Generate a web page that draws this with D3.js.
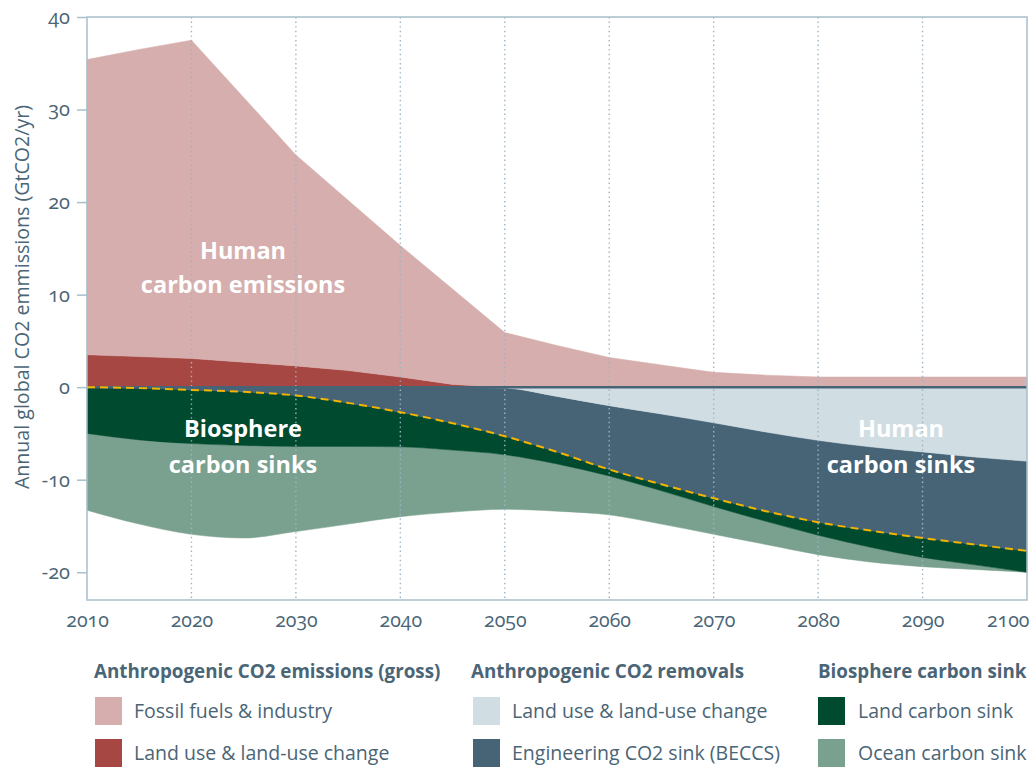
<!DOCTYPE html>
<html>
<head>
<meta charset="utf-8">
<script src="https://cdn.jsdelivr.net/npm/d3@7"></script>
<style>
  html, body { margin: 0; padding: 0; background: #ffffff; }
  svg { display: block; font-family: "Open Sans", Lato, sans-serif; }
  .num { font-variant-numeric: oldstyle-nums; font-feature-settings: "onum" 1; }
</style>
</head>
<body>
<svg id="chart" width="1034" height="767"></svg>
<script>
// ---- Data (GtCO2/yr) ----
const years = [2010,2015,2020,2025,2030,2035,2040,2045,2050,2055,2060,2065,2070,2075,2080,2085,2090,2095,2100];

// Anthropogenic CO2 emissions (gross)
const landUseEmissions = [3.5,3.3,3.1,2.7,2.3,1.8,1.1,0.3,0,0,0,0,0,0,0,0,0,0,0];
const fossilIndustry   = [31.9,33.2,34.4,28.6,22.8,18.4,14.2,10.3,5.9,4.5,3.2,2.4,1.6,1.3,1.1,1.1,1.1,1.1,1.1];

// Anthropogenic CO2 removals (magnitudes, drawn below zero)
const landUseRemovals  = [0,0,0,0,0,0,0,0,0.1,1.0,2.0,2.9,3.85,4.85,5.75,6.45,7.0,7.55,8.0];
const beccs            = [0,0.1,0.3,0.5,0.9,1.7,2.7,3.9,5.2,6.0,6.9,7.6,8.15,8.55,8.85,9.05,9.3,9.45,9.7];

// Biosphere carbon sink (magnitudes, drawn below zero)
const landSink         = [5.0,5.6,5.8,5.8,5.5,4.7,3.75,2.9,2.0,1.3,0.7,0.7,0.9,1.1,1.4,1.8,2.1,2.2,2.3];
const oceanSink        = [8.3,9.1,9.8,10.0,9.2,8.4,7.55,6.7,5.9,5.1,4.2,3.6,3.0,2.5,2.1,1.6,1.0,0.5,0.0];

const xTicks = [2010,2020,2030,2040,2050,2060,2070,2080,2090,2100];
const yTicks = [-20,-10,0,10,20,30,40];

const colors = {
  fossil: "#d5aead",
  landUseEm: "#a64743",
  landUseRem: "#d0dde2",
  beccs: "#476477",
  land: "#004a2f",
  ocean: "#7aa08f"
};

const textColor = "#4a6576";
const axisColor = "#a8bfcc";

// ---- Layout ----
const svg = d3.select("#chart");
const mLeft = 87, mRight = 1027, mTop = 17, mBottom = 600;

const x = d3.scaleLinear().domain([2010, 2100]).range([mLeft, mRight]);
const y = d3.scaleLinear().domain([-23, 40]).range([mBottom, mTop]);

// Build tables
const emisTable = years.map((yr, i) => ({ year: yr, landUseEm: landUseEmissions[i], fossil: fossilIndustry[i] }));
const sinkTable = years.map((yr, i) => ({ year: yr, landUseRem: landUseRemovals[i], beccs: beccs[i], land: landSink[i], ocean: oceanSink[i] }));

const emisStack = d3.stack().keys(["landUseEm", "fossil"])(emisTable);
const sinkStack = d3.stack().keys(["landUseRem", "beccs", "land", "ocean"])(sinkTable);

const areaPos = d3.area()
  .x(d => x(d.data.year))
  .y0(d => y(d[0]))
  .y1(d => y(d[1]))
  .curve(d3.curveLinear);

const areaNeg = d3.area()
  .x(d => x(d.data.year))
  .y0(d => y(-d[0]))
  .y1(d => y(-d[1]))
  .curve(d3.curveMonotoneX);

svg.append("g").selectAll("path")
  .data(sinkStack.slice().reverse())
  .join("path")
  .attr("d", areaNeg)
  .attr("fill", d => colors[d.key])
  .attr("stroke", d => colors[d.key])
  .attr("stroke-width", 0.5);

svg.append("g").selectAll("path")
  .data(emisStack)
  .join("path")
  .attr("d", areaPos)
  .attr("fill", d => colors[d.key])
  .attr("stroke", d => colors[d.key])
  .attr("stroke-width", 0.5);

// dotted vertical gridlines
svg.append("g").selectAll("line")
  .data(xTicks.slice(1, -1))
  .join("line")
  .attr("x1", d => x(d)).attr("x2", d => x(d))
  .attr("y1", mTop).attr("y2", mBottom)
  .attr("stroke", "#9db4c4")
  .attr("stroke-width", 1.4)
  .attr("stroke-dasharray", "1.4,3.2");

// zero line
svg.append("line")
  .attr("x1", mLeft).attr("x2", mRight)
  .attr("y1", y(0)).attr("y2", y(0))
  .attr("stroke", "#476477")
  .attr("stroke-width", 2.5);

// dashed line = total human sinks (bottom of BECCS)
const dashLine = d3.line()
  .x(d => x(d.data.year))
  .y(d => y(-d[1]))
  .curve(d3.curveMonotoneX);
svg.append("path")
  .datum(sinkStack[1])
  .attr("d", dashLine)
  .attr("fill", "none")
  .attr("stroke", "#f4b400")
  .attr("stroke-width", 2)
  .attr("stroke-dasharray", "8,5");

// frame
svg.append("rect")
  .attr("x", mLeft).attr("y", mTop)
  .attr("width", mRight - mLeft).attr("height", mBottom - mTop)
  .attr("fill", "none")
  .attr("stroke", axisColor)
  .attr("stroke-width", 1.5);

// y axis
const yAxis = d3.axisLeft(y).tickValues(yTicks).tickSize(10).tickPadding(7).tickFormat(d => String(d));
const yg = svg.append("g").attr("transform", `translate(${mLeft},0)`).call(yAxis);
yg.select(".domain").remove();
yg.selectAll(".tick line").attr("stroke", axisColor).attr("stroke-width", 1.5);
yg.selectAll(".tick text")
  .attr("class", "num")
  .attr("fill", textColor)
  .style("font-size", "20px")
  .style("font-family", "'Open Sans', sans-serif");

// x axis
const xAxis = d3.axisBottom(x).tickValues(xTicks).tickSize(0).tickPadding(13).tickFormat(d => String(d));
const xg = svg.append("g").attr("transform", `translate(0,${mBottom})`).call(xAxis);
xg.select(".domain").remove();
xg.selectAll(".tick text")
  .attr("class", "num")
  .attr("fill", textColor)
  .style("font-size", "19.5px")
  .style("font-family", "'Open Sans', sans-serif");
xg.selectAll(".tick text").filter(d => d === 2100)
  .attr("text-anchor", "end")
  .attr("x", 2);

// y axis title
svg.append("text")
  .attr("transform", `translate(29,297) rotate(-90)`)
  .attr("text-anchor", "middle")
  .attr("fill", textColor)
  .style("font-size", "19.6px")
  .text("Annual global CO2 emmissions (GtCO2/yr)");

// in-chart labels
const labels = [
  { t: "Human", x: 243, y: 259 },
  { t: "carbon emissions", x: 243, y: 293 },
  { t: "Biosphere", x: 243, y: 437 },
  { t: "carbon sinks", x: 243, y: 473 },
  { t: "Human", x: 901, y: 437 },
  { t: "carbon sinks", x: 901, y: 473 }
];
svg.append("g").selectAll("text")
  .data(labels)
  .join("text")
  .attr("x", d => d.x).attr("y", d => d.y)
  .attr("text-anchor", "middle")
  .attr("fill", "#ffffff")
  .style("font-size", "23.5px")
  .style("font-weight", "700")
  .text(d => d.t);

// legend
const legendGroups = [
  { title: "Anthropogenic CO2 emissions (gross)", x: 94, sx: 95, tx: 134,
    items: [{ k: "fossil", t: "Fossil fuels & industry" }, { k: "landUseEm", t: "Land use & land-use change" }] },
  { title: "Anthropogenic CO2 removals", x: 471, sx: 473, tx: 512,
    items: [{ k: "landUseRem", t: "Land use & land-use change" }, { k: "beccs", t: "Engineering CO2 sink (BECCS)" }] },
  { title: "Biosphere carbon sink", x: 818, sx: 818, tx: 858,
    items: [{ k: "land", t: "Land carbon sink" }, { k: "ocean", t: "Ocean carbon sink" }] }
];
const lg = svg.append("g");
legendGroups.forEach(g => {
  lg.append("text")
    .attr("x", g.x).attr("y", 678)
    .attr("fill", textColor)
    .style("font-size", "18.8px")
    .style("font-weight", "700")
    .text(g.title);
  g.items.forEach((it, i) => {
    const yy = 697 + i * 42;
    lg.append("rect")
      .attr("x", g.sx).attr("y", yy)
      .attr("width", 27).attr("height", 28)
      .attr("fill", colors[it.k]);
    lg.append("text")
      .attr("x", g.tx).attr("y", yy + 21)
      .attr("fill", textColor)
      .style("font-size", "19.5px")
      .text(it.t);
  });
});
</script>
</body>
</html>
